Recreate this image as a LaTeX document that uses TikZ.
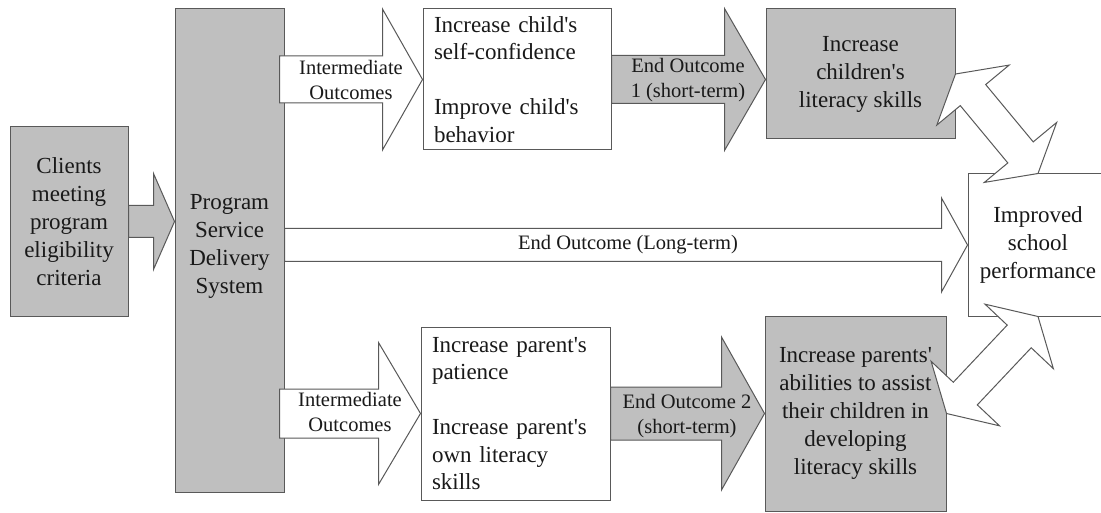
\documentclass[tikz,border=0pt]{standalone}
\usepackage{fontspec}
\setmainfont{Liberation Serif}
\usetikzlibrary{calc}
\newcommand\q{\textquotesingle}
% horizontal block arrow: style, start, end, shaft half, head half, head length
\newcommand\blockarrow[6]{\draw[#1] let \p1=(#2), \p2=(#3) in
  (\x1,\y1+#4) -- (\x2-#6,\y1+#4) -- (\x2-#6,\y1+#5) -- (\x2,\y1) --
  (\x2-#6,\y1-#5) -- (\x2-#6,\y1-#4) -- (\x1,\y1-#4) -- cycle;}
% double headed block arrow between two points
\newcommand\twoheadblock[2]{%
  \path ($(#1)!27.4pt!(#2)$) coordinate (hA) ($(#2)!27.4pt!(#1)$) coordinate (hB);
  \draw[whitearrow] (#1) -- ($(hA)!47pt!90:(#2)$) -- ($(hA)!16.5pt!90:(#2)$)
    -- ($(hB)!16.5pt!-90:(#1)$) -- ($(hB)!47pt!-90:(#1)$) -- (#2)
    -- ($(hB)!47pt!90:(#1)$) -- ($(hB)!16.5pt!90:(#1)$)
    -- ($(hA)!16.5pt!-90:(#2)$) -- ($(hA)!47pt!-90:(#2)$) -- cycle;}
\begin{document}
\begin{tikzpicture}[x=1pt,y=-1pt,
  box/.style={draw=black!65, line width=1pt, inner sep=0pt, align=center,
    text=black!90, font=\fontsize{23}{28}\selectfont},
  graybox/.style={box, fill=black!25},
  whitebox/.style={box, fill=white},
  txt/.style={inner sep=0pt, align=center, text=black!90, font=\fontsize{23}{28}\selectfont},
  atxt/.style={inner sep=0pt, align=center, text=black!90, font=\fontsize{20.5}{25}\selectfont},
  grayarrow/.style={draw=black!65, line width=1pt, fill=black!25},
  whitearrow/.style={draw=black!65, line width=1pt, fill=white},
]
\useasboundingbox (0,0) rectangle (1101,513);
\fill[white] (0,0) rectangle (1101,513);

% boxes
\node[graybox, minimum width=118pt, minimum height=189pt] (clients) at (69,221.5)
  {Clients\\meeting\\program\\eligibility\\criteria};
\node[graybox, minimum width=109pt, minimum height=483pt] (prog) at (229.5,250.5) {};
\node[txt] (progtext) at (229.5,246) {Program\\Service\\Delivery\\System};
\node[whitebox, minimum width=188pt, minimum height=141pt, text width=166pt, align=left,
  font=\fontsize{23}{27.5}\selectfont] (child) at (517,79.5)
  {Increase child\q s\\self-confidence\\[27.5pt]Improve child\q s\\behavior};
\node[graybox, minimum width=189pt, minimum height=130pt] (lit1) at (860.5,74)
  {Increase\\children\q s\\literacy skills};
\node[whitebox, minimum width=140pt, minimum height=142pt] (imp) at (1038,245)
  {Improved\\school\\performance};
\node[whitebox, minimum width=189pt, minimum height=173pt, text width=167pt, align=left,
  font=\fontsize{23}{27.5}\selectfont] (par) at (515.5,413.5)
  {Increase parent\q s\\patience\\[27.5pt]Increase parent\q s\\own literacy\\skills};
\node[graybox, minimum width=181pt, minimum height=195pt] (parlit) at (855.5,413.5)
  {Increase parents\q\\abilities to assist\\their children in\\developing\\literacy skills};

% block arrows
\blockarrow{grayarrow}{clients.east}{prog.west|-clients.east}{16pt}{48pt}{21pt}
\blockarrow{whitearrow}{$(prog.east|-child.west)+(-5,0)$}{child.west}{23.5pt}{70.5pt}{40pt}
\blockarrow{grayarrow}{child.east}{lit1.west|-child.east}{24pt}{71pt}{41pt}
\blockarrow{whitearrow}{prog.east|-imp.west}{imp.west}{16.5pt}{47pt}{26pt}
\blockarrow{whitearrow}{$(prog.east|-par.west)+(-5,0)$}{par.west}{24.5pt}{71pt}{42pt}
\blockarrow{grayarrow}{par.east}{parlit.west|-par.east}{26.5pt}{76.5pt}{43pt}

\twoheadblock{lit1.east}{imp.north}
\twoheadblock{parlit.east}{imp.south}

% arrow labels
\node[atxt] (io1) at (351,80) {Intermediate\\Outcomes};
\node[atxt] (eo1) at (688,80) {End Outcome\\1 (short-term)};
\node[atxt] (eol) at (628,245) {End Outcome (Long-term)};
\node[atxt] (io2) at (350,411.5) {Intermediate\\Outcomes};
\node[atxt] (eo2) at (687,416.5) {End Outcome 2\\(short-term)};
\end{tikzpicture}
\end{document}
